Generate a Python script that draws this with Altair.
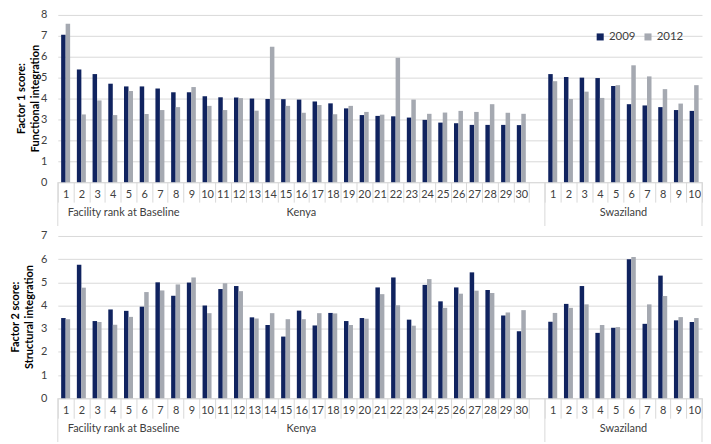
import altair as alt
import pandas as pd

# ---------------- data ----------------
kenya_ranks = [str(i) for i in range(1, 31)]
swazi_ranks = [str(i) for i in range(1, 11)]
years = ["2009", "2012"]

f1_kenya_2009 = [7.05, 5.39, 5.17, 4.71, 4.58, 4.58, 4.48, 4.30, 4.30, 4.11,
                 4.06, 4.05, 4.00, 3.98, 3.97, 3.95, 3.86, 3.77, 3.53, 3.21,
                 3.17, 3.15, 3.09, 2.98, 2.85, 2.82, 2.74, 2.74, 2.74, 2.73]
f1_kenya_2012 = [7.58, 3.24, 3.91, 3.21, 4.36, 3.26, 3.45, 3.59, 4.55, 3.65,
                 3.45, 4.02, 3.42, 6.48, 3.65, 3.32, 3.69, 3.25, 3.65, 3.36,
                 3.23, 5.95, 3.95, 3.27, 3.33, 3.41, 3.36, 3.73, 3.32, 3.27]
f1_swazi_2009 = [5.17, 5.03, 5.00, 4.98, 4.60, 3.73, 3.67, 3.59, 3.45, 3.41]
f1_swazi_2012 = [4.83, 3.98, 4.33, 4.03, 4.64, 5.59, 5.06, 4.45, 3.76, 4.64]

f2_kenya_2009 = [3.46, 5.76, 3.33, 3.83, 3.77, 3.95, 5.00, 4.42, 4.99, 4.00,
                 4.71, 4.84, 3.49, 3.16, 2.66, 3.78, 3.14, 3.68, 3.33, 3.46,
                 4.78, 5.21, 3.39, 4.89, 4.18, 4.78, 5.43, 4.67, 3.57, 2.89]
f2_kenya_2012 = [3.41, 4.77, 3.29, 3.17, 3.51, 4.58, 4.65, 4.91, 5.21, 3.67,
                 4.96, 4.62, 3.44, 3.67, 3.41, 3.41, 3.67, 3.66, 3.16, 3.43,
                 4.49, 4.01, 3.13, 5.14, 3.90, 4.51, 4.64, 4.54, 3.70, 3.80]
f2_swazi_2009 = [3.30, 4.07, 4.84, 2.82, 3.04, 6.00, 3.21, 5.29, 3.36, 3.29]
f2_swazi_2012 = [3.68, 3.90, 4.05, 3.16, 3.07, 6.09, 4.05, 4.41, 3.50, 3.46]

group_labels = ["Facility rank at Baseline", "Kenya", "Swaziland"]
titles_f1 = ["Factor  1 score:", "Functional integration"]
titles_f2 = ["Factor 2 score:", "Structural integration"]

# ---------------- helpers ----------------
slots = ["K" + r for r in kenya_ranks] + ["G"] + ["S" + r for r in swazi_ranks]

def make_df(k09, k12, s09, s12):
    rows = []
    for i, r in enumerate(kenya_ranks):
        rows.append({"slot": "K" + r, "year": "2009", "value": k09[i]})
        rows.append({"slot": "K" + r, "year": "2012", "value": k12[i]})
    for i, r in enumerate(swazi_ranks):
        rows.append({"slot": "S" + r, "year": "2009", "value": s09[i]})
        rows.append({"slot": "S" + r, "year": "2012", "value": s12[i]})
    return pd.DataFrame(rows)

FONT = "Lato"
NAVY = "#10235f"
GRAY = "#a5a9b1"
GRID = "#d9d9d9"
TXT = "#404040"
W = 647
H_TOP = 168
H_BOT = 163

def xenc(bandpos=None, axis=True):
    kw = dict(scale=alt.Scale(domain=slots, paddingInner=0, paddingOuter=0), sort=slots, title=None)
    if bandpos is not None:
        kw["bandPosition"] = bandpos
    if axis:
        kw["axis"] = alt.Axis(
            title=None,
            labelExpr="(!isString(datum.value) || datum.value == 'G') ? '' : substring(datum.value, 1)",
            tickBand="extent", tickSize=20, tickColor=GRID, domainColor=GRID,
            labelPadding=-14, labelFontSize=11, labelFont=FONT, labelColor=TXT,
            labelOverlap=False, labelAngle=0, grid=False,
        )
    return alt.X("slot:N", **kw)

def panel(df, h, ymax, title_lines, title_pos, show_legend):
    legend = None
    if show_legend:
        legend = alt.Legend(orient="none", legendX=539, legendY=16, direction="horizontal",
                            title=None, symbolType="square", symbolSize=50,
                            labelFont=FONT, labelFontSize=11.5, labelColor=TXT,
                            columnPadding=6, symbolStrokeWidth=0, labelOffset=3)
    bars = alt.Chart(df).mark_bar().encode(
        x=xenc(),
        xOffset=alt.XOffset("year:N", scale=alt.Scale(paddingInner=0, paddingOuter=0.75)),
        y=alt.Y("value:Q", scale=alt.Scale(domain=[0, ymax], nice=False),
                axis=alt.Axis(values=list(range(ymax + 1)), title=None,
                              labelFont=FONT, labelFontSize=11, labelColor=TXT, labelPadding=11,
                              ticks=False, domain=False, gridColor=GRID)),
        color=alt.Color("year:N", scale=alt.Scale(domain=years, range=[NAVY, GRAY]), legend=legend),
    )
    layers = [bars]
    # axis title lines (rotated)
    for line, px in zip(title_lines, title_pos):
        layers.append(
            alt.Chart(pd.DataFrame({"t": [line]})).mark_text(
                angle=270, align="center", baseline="middle", font=FONT, fontSize=11,
                fontWeight="bold", color="#000000"
            ).encode(x=alt.value(px), y=alt.value(h / 2), text="t:N")
        )
    lab_left = pd.DataFrame({"slot": ["K1"], "label": [group_labels[0]]})
    lab_k = pd.DataFrame({"slot": ["K16"], "label": [group_labels[1]]})
    lab_s = pd.DataFrame({"slot": ["S6"], "label": [group_labels[2]]})
    tkw = dict(font=FONT, fontSize=11, color=TXT, baseline="middle")
    layers.append(alt.Chart(lab_left).mark_text(align="left", dx=10, **tkw).encode(
        x=xenc(0, axis=False), y=alt.value(h + 31), text="label:N"))
    layers.append(alt.Chart(lab_k).mark_text(align="center", **tkw).encode(
        x=xenc(0.5, axis=False), y=alt.value(h + 31), text="label:N"))
    layers.append(alt.Chart(lab_s).mark_text(align="center", **tkw).encode(
        x=xenc(0, axis=False), y=alt.value(h + 31), text="label:N"))
    r_start = pd.DataFrame({"slot": ["K1", "S1"]})
    r_end = pd.DataFrame({"slot": ["S10"]})
    layers.append(alt.Chart(r_start).mark_rule(color=GRID, strokeWidth=1).encode(
        x=xenc(0, axis=False), y=alt.value(h), y2=alt.value(h + 44)))
    layers.append(alt.Chart(r_end).mark_rule(color=GRID, strokeWidth=1).encode(
        x=xenc(1, axis=False), y=alt.value(h), y2=alt.value(h + 44)))
    return alt.layer(*layers).properties(width=W, height=h)

top = panel(make_df(f1_kenya_2009, f1_kenya_2012, f1_swazi_2009, f1_swazi_2012),
            H_TOP, 8, titles_f1, [-36, -22], True)
bottom = panel(make_df(f2_kenya_2009, f2_kenya_2012, f2_swazi_2009, f2_swazi_2012),
               H_BOT, 7, titles_f2, [-42, -28], False)

chart = alt.vconcat(top, bottom, spacing=54, bounds="flush").resolve_scale(
    color="independent"
).properties(
    padding={"left": 2, "top": 0, "right": 0, "bottom": 0},
    background="white",
).configure_view(stroke=None)

chart.save("out.html", embed_options={"renderer": "svg", "actions": False})
